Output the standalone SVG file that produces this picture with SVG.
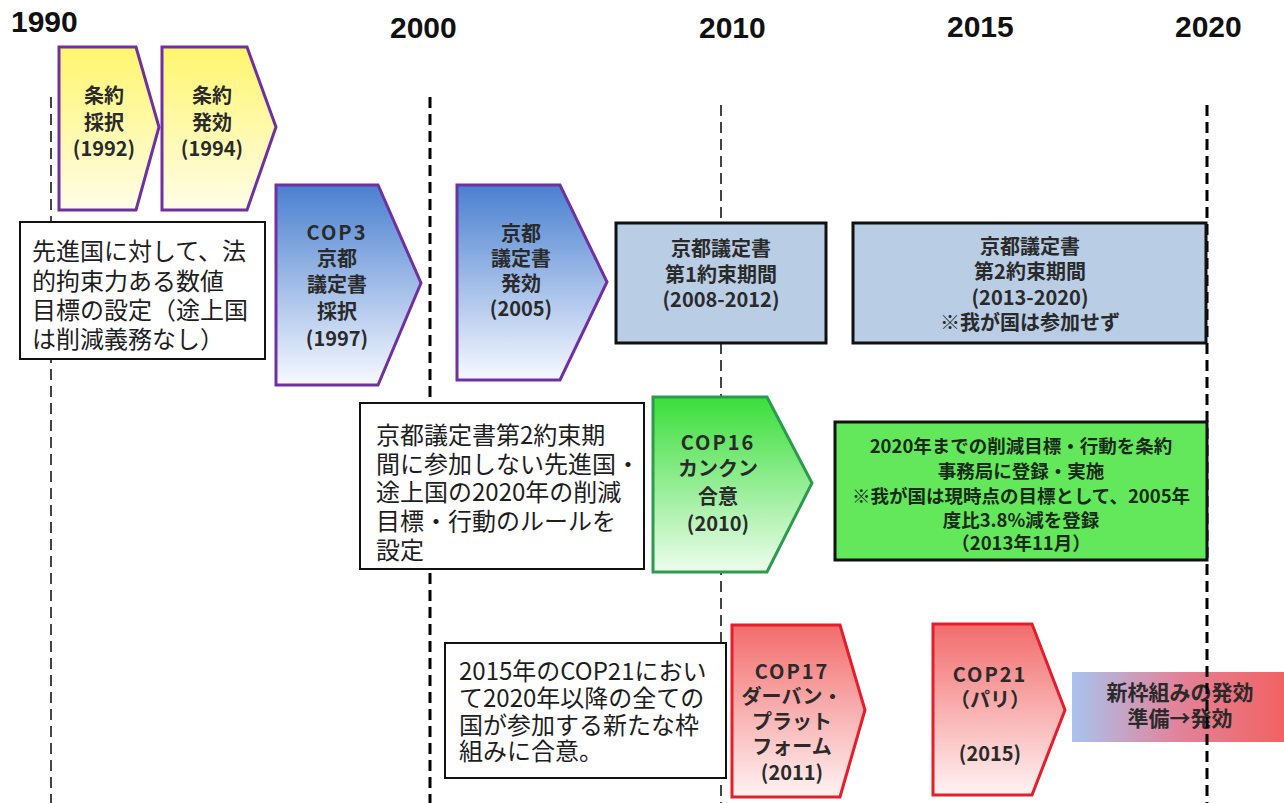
<svg xmlns="http://www.w3.org/2000/svg" width="1284" height="803" viewBox="0 0 1284 803">
<style>
.year{font-family:"Liberation Sans","Noto Sans",sans-serif;font-weight:bold;font-size:30px;fill:#111}
.lbl{font-family:"Noto Sans CJK JP","Liberation Sans",sans-serif;font-weight:bold;font-size:20px;fill:#2a2a2a;text-anchor:middle;dominant-baseline:central}
.cop{letter-spacing:2px}
.note{font-family:"Noto Sans CJK JP","Liberation Sans",sans-serif;font-size:24px;fill:#1e1e1e;dominant-baseline:central}
.pur{stroke:#7030a0;stroke-width:3;stroke-linejoin:miter}
.kbox{fill:#b9cde5;stroke:#111;stroke-width:3}
.nbox{fill:#fff;stroke:#111;stroke-width:2}
.grid{fill:none;stroke-dasharray:11 6}
.g1{stroke:#444;stroke-width:2}
.g2{stroke:#000;stroke-width:3}
</style>
<defs>
<linearGradient id="gY" x1="0" y1="0" x2="0" y2="1"><stop offset="0" stop-color="#fff56e"/><stop offset="1" stop-color="#fffde8"/></linearGradient>
<linearGradient id="gB" x1="0" y1="0" x2="0" y2="1"><stop offset="0" stop-color="#4a80d0"/><stop offset="1" stop-color="#f7f9ff"/></linearGradient>
<linearGradient id="gG" x1="0" y1="0" x2="0" y2="1"><stop offset="0" stop-color="#3ade3a"/><stop offset="1" stop-color="#eefcee"/></linearGradient>
<linearGradient id="gR" x1="0" y1="0" x2="0" y2="1"><stop offset="0" stop-color="#f26c6c"/><stop offset="1" stop-color="#fff3f3"/></linearGradient>
<linearGradient id="gH" x1="0" y1="0" x2="1" y2="0"><stop offset="0" stop-color="#a9c3ee"/><stop offset="0.5" stop-color="#e2839a"/><stop offset="1" stop-color="#f26262"/></linearGradient>
</defs>
<rect width="1284" height="803" fill="#fff"/>

<g id="years">
<text class="year" x="11" y="32">1990</text>
<text class="year" x="390" y="38">2000</text>
<text class="year" x="699" y="38">2010</text>
<text class="year" x="947" y="37">2015</text>
<text class="year" x="1175" y="37">2020</text>
</g>

<g id="new-framework">
<rect x="1072" y="672" width="212" height="70" fill="url(#gH)"/>
<text class="lbl" style="font-size:21px" x="1180" y="691">新枠組みの発効</text>
<text class="lbl" style="font-size:21px" x="1180" y="717">準備→発効</text>
</g>

<g id="connectors">
<line class="grid g1" x1="51" y1="97" x2="51" y2="803"/>
<line class="grid g2" x1="430" y1="97" x2="430" y2="803"/>
<line class="grid g1" x1="721" y1="105" x2="721" y2="803"/>
<line class="grid g2" x1="1207" y1="105" x2="1207" y2="803"/>
</g>

<g id="treaty-adopt">
<path class="pur" d="M59,47 L136,47 L159,127 L136,210 L59,210 Z" fill="url(#gY)"/>
<text class="lbl" x="104" y="94">条約</text>
<text class="lbl" x="104" y="121">採択</text>
<text class="lbl" x="104" y="147">(1992)</text>
</g>

<g id="treaty-effect">
<path class="pur" d="M162,47 L247,47 L276,127 L247,210 L162,210 Z" fill="url(#gY)"/>
<text class="lbl" x="212" y="94">条約</text>
<text class="lbl" x="212" y="121">発効</text>
<text class="lbl" x="212" y="147">(1994)</text>
</g>

<g id="note-annex1">
<rect class="nbox" x="20" y="222" width="245" height="137"/>
<text class="note" x="32" y="249">先進国に対して、法</text>
<text class="note" x="32" y="279">的拘束力ある数値</text>
<text class="note" x="32" y="308">目標の設定（途上国</text>
<text class="note" x="32" y="337">は削減義務なし）</text>
</g>

<g id="cop3">
<path class="pur" d="M276,185 L378,185 L421,283 L378,385 L276,385 Z" fill="url(#gB)"/>
<text class="lbl cop" x="337" y="231">COP3</text>
<text class="lbl" x="337" y="257">京都</text>
<text class="lbl" x="337" y="283">議定書</text>
<text class="lbl" x="337" y="310">採択</text>
<text class="lbl" x="337" y="337">(1997)</text>
</g>

<g id="kyoto-effect">
<path class="pur" d="M457,185 L560,185 L607,282 L560,380 L457,380 Z" fill="url(#gB)"/>
<text class="lbl" x="521" y="232">京都</text>
<text class="lbl" x="521" y="257">議定書</text>
<text class="lbl" x="521" y="282">発効</text>
<text class="lbl" x="521" y="307">(2005)</text>
</g>

<g id="kyoto-cp1">
<rect class="kbox" x="616" y="223" width="210" height="120"/>
<text class="lbl" x="721" y="247">京都議定書</text>
<text class="lbl" x="721" y="273">第1約束期間</text>
<text class="lbl" x="721" y="298">(2008-2012)</text>
</g>

<g id="kyoto-cp2">
<rect class="kbox" x="853" y="223" width="353" height="120"/>
<text class="lbl" x="1030" y="245">京都議定書</text>
<text class="lbl" x="1030" y="270">第2約束期間</text>
<text class="lbl" x="1030" y="296">(2013-2020)</text>
<text class="lbl" x="1030" y="321">※我が国は参加せず</text>
</g>

<g id="note-cancun">
<rect class="nbox" x="360" y="403" width="284" height="166"/>
<text class="note" x="376" y="433">京都議定書第2約束期</text>
<text class="note" x="376" y="462">間に参加しない先進国・</text>
<text class="note" x="376" y="490">途上国の2020年の削減</text>
<text class="note" x="376" y="519">目標・行動のルールを</text>
<text class="note" x="376" y="548">設定</text>
</g>

<g id="cop16">
<path d="M653,397 L767,397 L812,483 L767,572 L653,572 Z" fill="url(#gG)" stroke="#2c9c4c" stroke-width="3"/>
<text class="lbl cop" x="718" y="441">COP16</text>
<text class="lbl" x="718" y="467">カンクン</text>
<text class="lbl" x="718" y="495">合意</text>
<text class="lbl" x="718" y="522">(2010)</text>
</g>

<g id="pledge-2020">
<rect x="835" y="422" width="372" height="138" fill="#62e85a" stroke="#111" stroke-width="3"/>
<text class="lbl" style="font-size:18.5px;fill:#1a2a1a" x="1021" y="445">2020年までの削減目標・行動を条約</text>
<text class="lbl" style="font-size:18.5px;fill:#1a2a1a" x="1021" y="470">事務局に登録・実施</text>
<text class="lbl" style="font-size:18.5px;fill:#1a2a1a" x="1021" y="495">※我が国は現時点の目標として、2005年</text>
<text class="lbl" style="font-size:18.5px;fill:#1a2a1a" x="1021" y="519">度比3.8%減を登録</text>
<text class="lbl" style="font-size:18.5px;fill:#1a2a1a" x="1021" y="542">（2013年11月）</text>
</g>

<g id="note-durban">
<rect class="nbox" x="445" y="643" width="281" height="135"/>
<text class="note" x="459" y="669">2015年のCOP21におい</text>
<text class="note" x="459" y="696">て2020年以降の全ての</text>
<text class="note" x="459" y="723">国が参加する新たな枠</text>
<text class="note" x="459" y="749">組みに合意。</text>
</g>

<g id="cop17">
<path d="M732,625 L840,625 L865,710 L840,797 L732,797 Z" fill="url(#gR)" stroke="#e41e2a" stroke-width="3"/>
<text class="lbl cop" x="792" y="670">COP17</text>
<text class="lbl" x="792" y="695">ダーバン・</text>
<text class="lbl" x="792" y="720">プラット</text>
<text class="lbl" x="792" y="745">フォーム</text>
<text class="lbl" x="792" y="771">(2011)</text>
</g>

<g id="cop21">
<path d="M933,624 L1032,624 L1065,710 L1032,795 L933,795 Z" fill="url(#gR)" stroke="#e41e2a" stroke-width="3"/>
<text class="lbl cop" x="990" y="673">COP21</text>
<text class="lbl" x="990" y="698">（パリ）</text>
<text class="lbl" x="990" y="752">(2015)</text>
</g>
</svg>
